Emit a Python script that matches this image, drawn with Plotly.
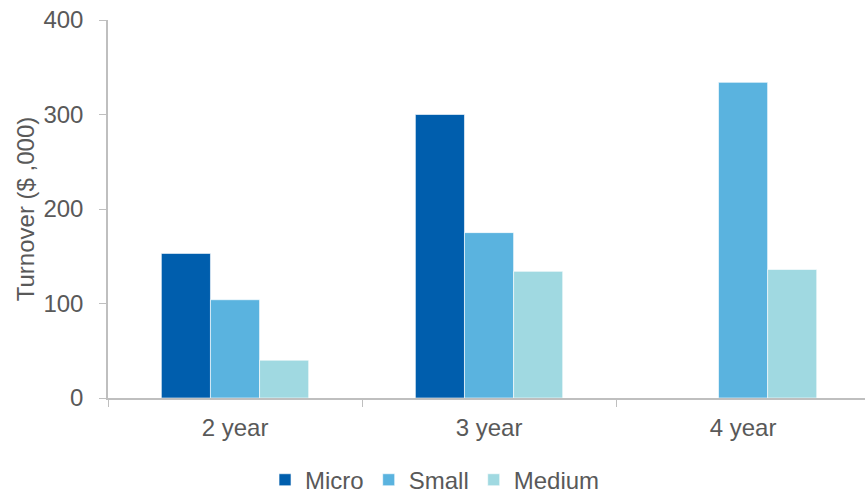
import plotly.graph_objects as go

categories = ["2 year", "3 year", "4 year"]
micro = [153, 300, 0]
small = [104, 175, 334]
medium = [40, 134, 136]
series_names = ["Micro", "Small", "Medium"]
colors = ["#005EAD", "#5AB3DF", "#A0D9E1"]

fig = go.Figure()
for name, vals, col in zip(series_names, [micro, small, medium], colors):
    fig.add_trace(go.Bar(
        x=categories, y=vals, name=name,
        marker=dict(color=col, line=dict(color="rgba(255,255,255,0.6)", width=1)),
    ))

font_family = "Liberation Sans, Arial, sans-serif"
fig.update_layout(
    width=865, height=495,
    margin=dict(l=108, r=0, t=20, b=97, autoexpand=False),
    paper_bgcolor="white", plot_bgcolor="white",
    barmode="group", bargap=0.42, bargroupgap=0,
    font=dict(family=font_family, size=24, color="#595959"),
    showlegend=True,
    legend=dict(orientation="h", x=0.432, xanchor="center",
                yref="container", y=0.03, yanchor="middle",
                font=dict(size=24, color="#595959"), itemwidth=30, traceorder="normal"),
    xaxis=dict(range=[-0.5, 2.48], showline=True, linecolor="#BFBFBF", linewidth=1.5,
               ticks="outside", tickson="boundaries", ticklen=7, tickcolor="#BFBFBF",
               ticklabelstandoff=7,
               showgrid=False, zeroline=False, tickfont=dict(size=24, color="#595959")),
    yaxis=dict(range=[0, 400], tickvals=[0, 100, 200, 300, 400], showline=True,
               linecolor="#BFBFBF", linewidth=1.5, ticks="outside", ticklen=7,
               tickcolor="#BFBFBF", showgrid=False, zeroline=False,
               ticklabelstandoff=11,
               tickfont=dict(size=24, color="#595959"),
               title=dict(text="Turnover ($ ,000)", font=dict(size=24, color="#595959"),
                          standoff=2)),
)

fig.write_html("out.html")
